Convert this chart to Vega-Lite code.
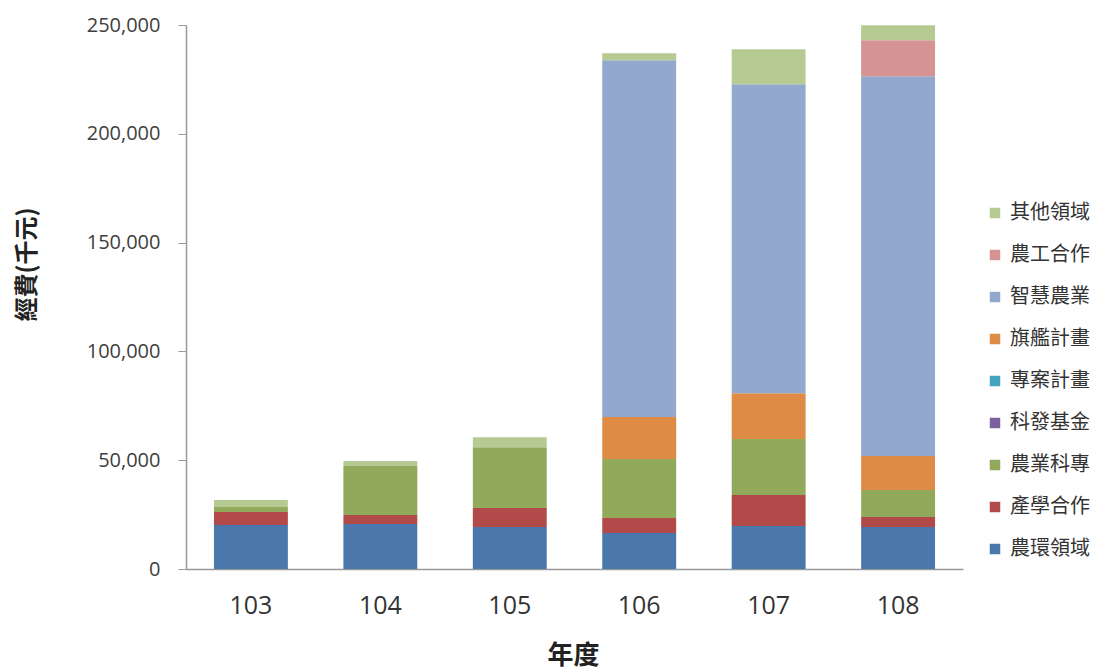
{
  "$schema": "https://vega.github.io/schema/vega-lite/v6.json",
  "width": 777,
  "height": 544,
  "autosize": {"type": "none"},
  "padding": {"left": 186, "top": 25, "right": 134, "bottom": 100},
  "background": "white",
  "config": {"view": {"stroke": null}},
  "data": {
    "values": [
      {"year": "103", "cat": "農環領域", "k": 1, "v": 20200},
      {"year": "103", "cat": "產學合作", "k": 2, "v": 6000},
      {"year": "103", "cat": "農業科專", "k": 3, "v": 2300},
      {"year": "103", "cat": "其他領域", "k": 9, "v": 3200},
      {"year": "104", "cat": "農環領域", "k": 1, "v": 20700},
      {"year": "104", "cat": "產學合作", "k": 2, "v": 4100},
      {"year": "104", "cat": "農業科專", "k": 3, "v": 22500},
      {"year": "104", "cat": "其他領域", "k": 9, "v": 2300},
      {"year": "105", "cat": "農環領域", "k": 1, "v": 19300},
      {"year": "105", "cat": "產學合作", "k": 2, "v": 8700},
      {"year": "105", "cat": "農業科專", "k": 3, "v": 28000},
      {"year": "105", "cat": "其他領域", "k": 9, "v": 4600},
      {"year": "106", "cat": "農環領域", "k": 1, "v": 16500},
      {"year": "106", "cat": "產學合作", "k": 2, "v": 6900},
      {"year": "106", "cat": "農業科專", "k": 3, "v": 27100},
      {"year": "106", "cat": "旗艦計畫", "k": 6, "v": 19300},
      {"year": "106", "cat": "智慧農業", "k": 7, "v": 164000},
      {"year": "106", "cat": "其他領域", "k": 9, "v": 3200},
      {"year": "107", "cat": "農環領域", "k": 1, "v": 19800},
      {"year": "107", "cat": "產學合作", "k": 2, "v": 14200},
      {"year": "107", "cat": "農業科專", "k": 3, "v": 25700},
      {"year": "107", "cat": "旗艦計畫", "k": 6, "v": 21100},
      {"year": "107", "cat": "智慧農業", "k": 7, "v": 142000},
      {"year": "107", "cat": "其他領域", "k": 9, "v": 16100},
      {"year": "108", "cat": "農環領域", "k": 1, "v": 19300},
      {"year": "108", "cat": "產學合作", "k": 2, "v": 4600},
      {"year": "108", "cat": "農業科專", "k": 3, "v": 12400},
      {"year": "108", "cat": "旗艦計畫", "k": 6, "v": 15600},
      {"year": "108", "cat": "智慧農業", "k": 7, "v": 174600},
      {"year": "108", "cat": "農工合作", "k": 8, "v": 16500},
      {"year": "108", "cat": "其他領域", "k": 9, "v": 6900}
    ]
  },
  "mark": {"type": "bar"},
  "encoding": {
    "x": {
      "field": "year",
      "type": "nominal",
      "scale": {"paddingInner": 0.429, "paddingOuter": 0.216},
      "axis": {
        "title": "年度",
        "titleFont": "Noto Sans CJK TC",
        "titleFontSize": 26,
        "titleFontWeight": "bold",
        "titleColor": "#222222",
        "titleX": 387,
        "titleY": 86,
        "titleBaseline": "middle",
        "titleAlign": "center",
        "labelAngle": 0,
        "labelFont": "Open Sans",
        "labelFontSize": 25,
        "labelColor": "#333333",
        "labelPadding": 24,
        "ticks": false,
        "domainColor": "#999999",
        "domainWidth": 1.5
      }
    },
    "y": {
      "field": "v",
      "type": "quantitative",
      "aggregate": "sum",
      "stack": "zero",
      "scale": {"domain": [0, 250000], "nice": false},
      "axis": {
        "title": "經費(千元)",
        "titleFont": "Noto Sans CJK TC",
        "titleFontSize": 24,
        "titleFontWeight": "bold",
        "titleColor": "#222222",
        "titleX": -159,
        "titleY": 239,
        "titleAngle": -90,
        "titleAlign": "center",
        "titleBaseline": "middle",
        "values": [0, 50000, 100000, 150000, 200000, 250000],
        "format": ",d",
        "labelFont": "Open Sans",
        "labelFontSize": 20,
        "labelColor": "#404040",
        "labelPadding": 18,
        "tickSize": 8,
        "tickColor": "#999999",
        "domainColor": "#999999",
        "domainWidth": 1.5,
        "grid": false
      }
    },
    "color": {
      "field": "cat",
      "type": "nominal",
      "scale": {
        "domain": ["其他領域", "農工合作", "智慧農業", "旗艦計畫", "專案計畫", "科發基金", "農業科專", "產學合作", "農環領域"],
        "range": ["#B6CA93", "#D69394", "#93A8CD", "#DE8B45", "#43A3BC", "#7B60A0", "#91A95B", "#B24A4A", "#4A78AC"]
      },
      "legend": {
        "title": null,
        "orient": "none",
        "legendX": 799,
        "legendY": 178,
        "padding": 0,
        "symbolType": "square",
        "symbolSize": 110,
        "symbolStrokeWidth": 0,
        "labelFont": "Noto Sans CJK TC",
        "labelFontSize": 20,
        "labelColor": "#333333",
        "labelOffset": 5,
        "rowPadding": 22
      }
    },
    "order": {"field": "k", "type": "quantitative", "sort": "ascending"}
  }
}
